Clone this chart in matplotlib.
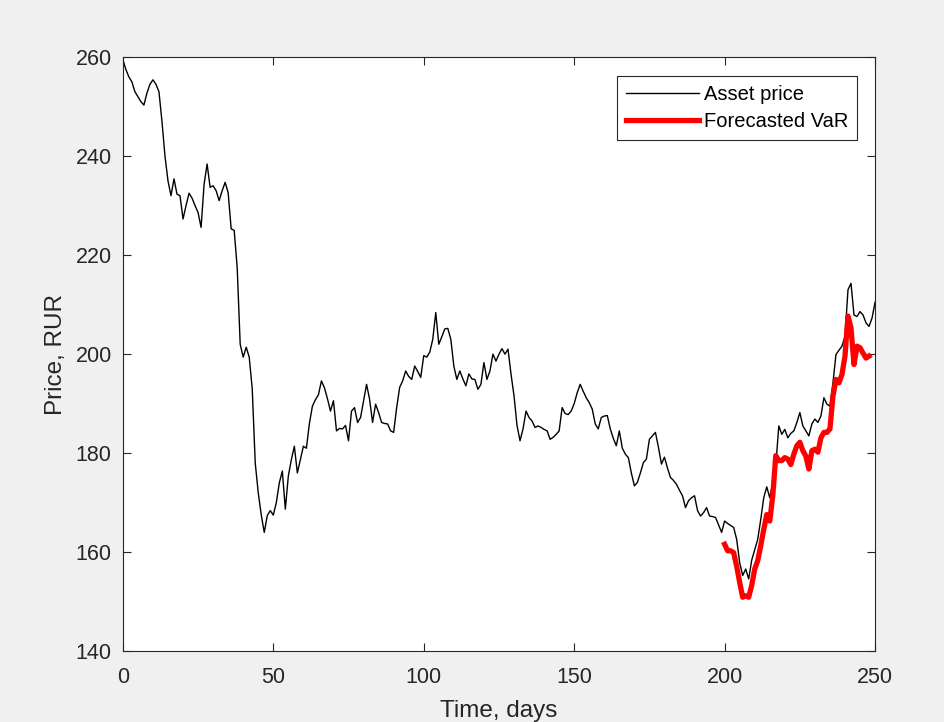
import matplotlib
matplotlib.use("Agg")
import matplotlib.pyplot as plt
import numpy as np

# Daily asset price, days 0..250
asset_price = [
    259.5, 257.5, 256.0, 255.0, 253.0, 252.0, 251.0, 250.3, 252.7, 254.5,
    255.4, 254.5, 253.0, 247.0, 240.0, 235.0, 232.0, 235.4, 232.3, 232.0,
    227.3, 230.0, 232.5, 231.5, 230.0, 228.6, 225.6, 234.3, 238.4, 233.7,
    234.0, 233.0, 231.0, 233.0, 234.7, 232.6, 225.3, 225.0, 217.5, 202.0,
    199.4, 201.4, 199.4, 193.0, 178.0, 172.0, 167.5, 164.0, 167.4, 168.4,
    167.5, 170.0, 174.0, 176.4, 168.7, 175.4, 178.7, 181.4, 176.0, 178.7,
    181.4, 181.0, 186.0, 189.5, 190.8, 191.8, 194.6, 193.2, 191.0, 188.5,
    190.6, 184.5, 185.0, 184.9, 185.6, 182.5, 188.5, 189.2, 186.2, 187.2,
    190.6, 193.9, 190.9, 186.2, 189.9, 188.2, 186.2, 186.0, 185.9, 184.5,
    184.2, 189.2, 193.3, 194.6, 196.6, 195.5, 194.9, 197.6, 196.5, 195.3,
    199.7, 199.4, 200.4, 203.0, 208.4, 202.0, 203.5, 205.1, 205.2, 203.0,
    197.6, 194.9, 196.6, 195.0, 193.6, 196.0, 195.0, 194.9, 192.9, 193.9,
    198.3, 194.9, 196.6, 200.0, 198.6, 200.0, 201.1, 200.0, 201.0, 196.0,
    191.6, 185.6, 182.5, 184.9, 188.5, 187.2, 186.5, 185.2, 185.5, 185.2,
    184.8, 184.5, 182.8, 183.2, 183.8, 184.5, 189.2, 188.0, 187.8, 188.5,
    190.0, 192.2, 193.9, 192.5, 191.2, 190.2, 188.9, 185.9, 184.9, 187.2,
    187.5, 187.6, 184.9, 183.0, 181.5, 184.5, 181.0, 179.8, 179.1, 176.0,
    173.4, 174.1, 176.0, 178.1, 178.8, 182.8, 183.5, 184.2, 181.2, 177.8,
    179.2, 177.0, 175.1, 174.5, 173.7, 172.5, 171.4, 169.0, 170.4, 171.0,
    171.4, 168.4, 167.3, 168.0, 169.0, 167.3, 167.2, 167.0, 165.5, 164.0,
    166.3, 165.8, 165.4, 165.0, 162.6, 157.9, 155.3, 156.6, 154.6, 158.4,
    160.5, 162.6, 166.6, 171.0, 173.2, 171.0, 174.0, 177.4, 185.5, 183.8,
    184.8, 183.1, 184.0, 184.5, 186.2, 188.2, 185.5, 184.5, 183.5, 185.9,
    186.9, 186.2, 187.5, 191.2, 189.9, 189.5, 194.2, 199.9, 200.8, 201.6,
    203.6, 213.0, 214.3, 207.9, 207.6, 208.6, 207.9, 206.3, 205.6, 207.3,
    210.5,
]
asset_days = np.arange(len(asset_price))

# Forecasted value-at-risk, days 200..248
var_start_day = 200
forecast_var = [
    161.6, 160.3, 160.3, 159.9, 157.2, 153.9, 150.9, 151.2, 150.9, 153.3,
    156.6, 158.3, 161.3, 164.6, 167.6, 166.3, 171.4, 179.5, 178.5, 178.5,
    179.1, 178.8, 177.7, 179.8, 181.5, 182.2, 180.5, 179.4, 176.8, 180.5,
    180.8, 180.2, 183.1, 184.2, 184.2, 184.9, 191.5, 194.9, 194.2, 195.9,
    199.6, 207.7, 205.3, 197.9, 201.6, 201.3, 200.2, 199.2, 199.6,
]
var_days = np.arange(var_start_day, var_start_day + len(forecast_var))

x_ticks = [0, 50, 100, 150, 200, 250]
y_ticks = [140, 160, 180, 200, 220, 240, 260]

plt.rcParams["font.family"] = ["Liberation Sans", "DejaVu Sans"]
ink = "#262626"

fig = plt.figure(figsize=(9.45, 7.22), dpi=100, facecolor="#f0f0f0")
ax = fig.add_axes([0.130, 0.098, 0.796, 0.823])
ax.set_facecolor("white")

ax.plot(asset_days, asset_price, color="black", linewidth=1.0,
        label="Asset price")
ax.plot(var_days, forecast_var, color="#ff0000", linewidth=3.8,
        label="Forecasted VaR")

ax.set_xlim(0, 250)
ax.set_ylim(140, 260)
ax.set_xticks(x_ticks)
ax.set_yticks(y_ticks)
ax.tick_params(direction="in", top=True, right=True, length=6,
               width=0.8, color=ink, labelcolor=ink, labelsize=15.5)
ax.tick_params(axis="x", pad=11)
ax.tick_params(axis="y", pad=8)
for s in ax.spines.values():
    s.set_color(ink)
    s.set_linewidth(0.8)

ax.set_xlabel("Time, days", fontsize=17.5, color=ink, labelpad=9)
ax.set_ylabel("Price, RUR", fontsize=17.5, color=ink, labelpad=6)

leg = ax.legend(loc="upper right", bbox_to_anchor=(0.976, 0.968),
                borderaxespad=0, fontsize=14.5, handlelength=3.6,
                handletextpad=0.25, borderpad=0.45, labelspacing=0.4,
                fancybox=False, framealpha=1, edgecolor=ink)
leg.get_frame().set_linewidth(0.8)

fig.savefig("out.png", dpi=100, facecolor=fig.get_facecolor())
